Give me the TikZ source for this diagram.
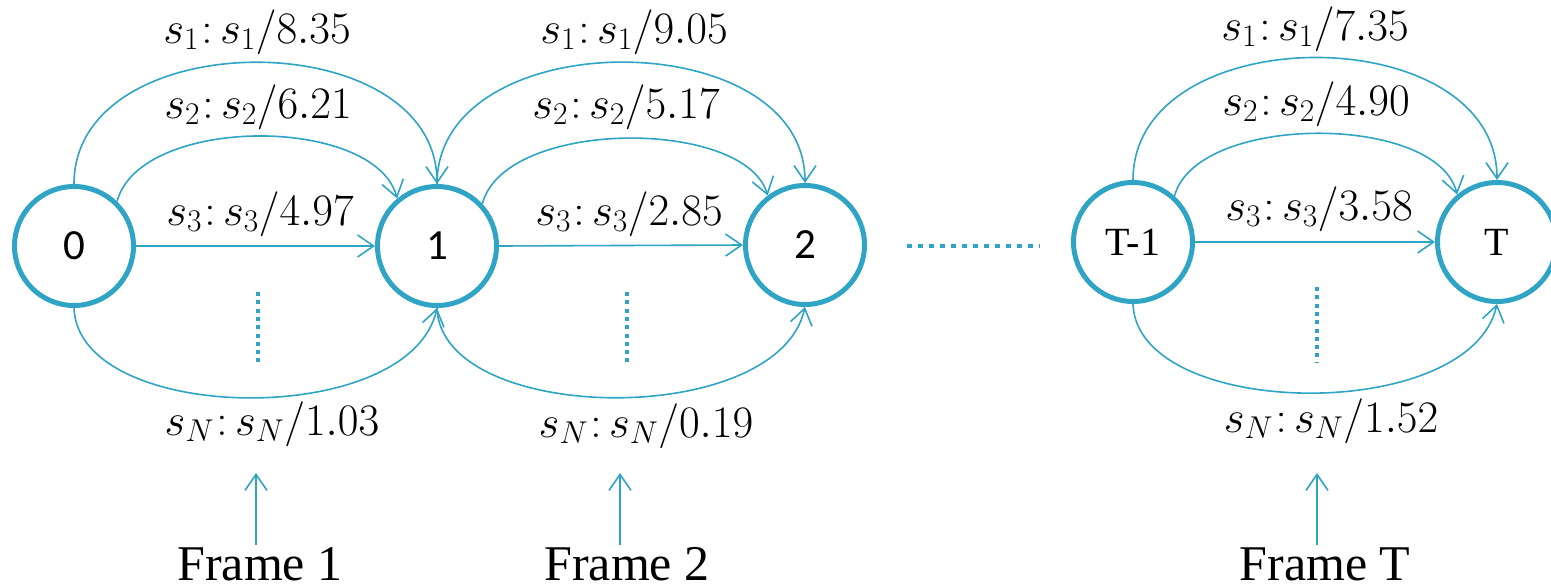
\documentclass[tikz,border=0pt]{standalone}
\usepackage{fix-cm}
\usepackage{fontspec}
\usetikzlibrary{arrows.meta}
\newfontfamily\timesfont{Liberation Serif}
\newfontfamily\calfont{Carlito}
\definecolor{linkblue}{RGB}{48,164,196}
\newcommand{\wlab}[3]{$s_{#1}\mkern1mu{:}\,s_{#2}/#3$}
\tikzset{
  state/.style={circle, draw=linkblue, line width=5pt, minimum size=119pt, inner sep=0pt},
  numstate/.style={state, font=\calfont\fontsize{43}{50}\selectfont},
  romstate/.style={state, font=\timesfont\fontsize{40}{46}\selectfont},
  trans/.style={draw=linkblue, line width=1.6pt,
    -{Straight Barb[length=16pt,width=22pt,line width=1.6pt]}},
  weight/.style={anchor=base, inner sep=0pt, font=\fontsize{45}{52}\selectfont},
  framelabel/.style={anchor=base, inner sep=0pt, font=\timesfont\fontsize{50}{56}\selectfont},
  vdots/.style={draw=linkblue, line width=4pt, dash pattern=on 4pt off 4.3pt},
  hdots/.style={draw=linkblue, line width=4pt, dash pattern=on 5pt off 6pt},
}
\begin{document}
\begin{tikzpicture}[x=1pt,y=-1pt]
\useasboundingbox (0,0) rectangle (1551,587);

% states
\node[numstate] (n0)  at (74,246)   {0};
\node[numstate] (n1)  at (437,246)  {1};
\node[numstate] (n2)  at (805,245)  {2};
\node[romstate] (nt1) at (1133,242) {T-1};
\node[romstate] (nt)  at (1497,242) {T};

% frame 1 : 0 -> 1
\draw[trans] (n0.north) .. controls (74,22) and (437,22) .. (n1.north);
\draw[trans] (n0.46) .. controls (140,115) and (375,115) .. (n1.130);
\draw[trans] (n0.east) -- (n1.west);
\draw[trans] (n0.south) .. controls (78,425) and (410,430) .. (n1.south);
\node[weight] (w01) at (257,43)  {\wlab{1}{1}{8.35}};
\node[weight] (w02) at (258,118) {\wlab{2}{2}{6.21}};
\node[weight] (w03) at (260,225) {\wlab{3}{3}{4.97}};
\node[weight] (w0N) at (272,435) {\wlab{N}{N}{1.03}};
\coordinate (d0a) at (258,292);
\coordinate (d0b) at (258,365);
\draw[vdots] (d0a) -- (d0b);

% frame 2 : 1 -> 2
\draw[trans] (n1.north) .. controls (437,22) and (805,22) .. (n2.north);
\draw[trans] (n1.43) .. controls (505,118) and (745,118) .. (n2.127);
\draw[trans] (n1.east) -- (n2.west);
\draw[trans] (n1.south) .. controls (441,425) and (778,430) .. (n2.south);
\node[weight] (w11) at (634,43)  {\wlab{1}{1}{9.05}};
\node[weight] (w12) at (626,118) {\wlab{2}{2}{5.17}};
\node[weight] (w13) at (629,225) {\wlab{3}{3}{2.85}};
\node[weight] (w1N) at (646,437) {\wlab{N}{N}{0.19}};
\coordinate (d1a) at (627,292);
\coordinate (d1b) at (627,365);
\draw[vdots] (d1a) -- (d1b);

% skipped frames
\coordinate (ha) at (907,246);
\coordinate (hb) at (1040,246);
\draw[hdots] (ha) -- (hb);

% frame T : T-1 -> T
\draw[trans] (nt1.north) .. controls (1133,17) and (1497,17) .. (nt.north);
\draw[trans] (nt1.48) .. controls (1197,113) and (1437,113) .. (nt.130);
\draw[trans] (nt1.east) -- (nt.west);
\draw[trans] (nt1.south) .. controls (1137,420) and (1470,425) .. (nt.south);
\node[weight] (wt1) at (1315,40)  {\wlab{1}{1}{7.35}};
\node[weight] (wt2) at (1316,115) {\wlab{2}{2}{4.90}};
\node[weight] (wt3) at (1319,220) {\wlab{3}{3}{3.58}};
\node[weight] (wtN) at (1331,432) {\wlab{N}{N}{1.52}};
\coordinate (dta) at (1317,287);
\coordinate (dtb) at (1317,362);
\draw[vdots] (dta) -- (dtb);

% frame labels
\node[framelabel] (f1) at (260,580)  {Frame 1};
\node[framelabel] (f2) at (627,580)  {Frame 2};
\node[framelabel] (fT) at (1325,580) {Frame T};
\coordinate (a1) at (256,473);
\coordinate (a2) at (620,473);
\coordinate (aT) at (1317,473);
\draw[trans] ([yshift=2pt]f1.north -| a1) -- (a1);
\draw[trans] ([yshift=2pt]f2.north -| a2) -- (a2);
\draw[trans] ([yshift=2pt]fT.north -| aT) -- (aT);
\end{tikzpicture}
\end{document}
